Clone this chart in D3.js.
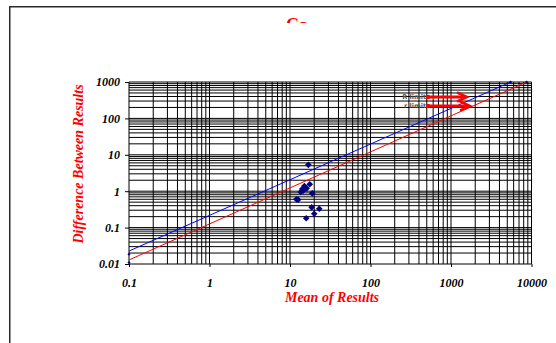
<!DOCTYPE html>
<html>
<head>
<meta charset="utf-8">
<script src="https://cdn.jsdelivr.net/npm/d3@7"></script>
<style>
  body { margin: 0; background: #fff; }
  svg { display: block; }
  .tick text { font-family: "Liberation Serif", "Times New Roman", serif; font-weight: bold; font-style: italic; font-size: 12px; fill: #000; }
</style>
</head>
<body>
<svg id="chart"></svg>
<script>
// data
const xTicks = [0.1, 1, 10, 100, 1000, 10000];
const xTickLabels = ['0.1', '1', '10', '100', '1000', '10000'];
const yTicks = [0.01, 0.1, 1, 10, 100, 1000];
const yTickLabels = ['0.01', '0.1', '1', '10', '100', '1000'];

// scatter: mean of results vs difference between results
const meanVals = [16.9, 17.6, 15.1, 16.1, 14.2, 13.6, 14.6, 18.9, 12.0, 12.6, 18.6, 23.1, 20.0, 15.9];
const diffVals = [5.3, 1.55, 1.39, 1.2, 1.15, 0.95, 1.03, 0.875, 0.6, 0.585, 0.36, 0.33, 0.24, 0.18];

// limit lines (start / end)
const blueLineX = [0.1, 5500];
const blueLineY = [0.0227, 1000];
const redLineX = [0.1, 8700];
const redLineY = [0.0129, 1000];

// small end markers
const endX = [0.1, 0.1, 5500, 8700];
const endY = [0.0185, 0.011, 1000, 1000];

const legendLabels = ['R limit', 'r limit'];

let margin = { top: 82, right: 24.5, bottom: 79, left: 129 },
  width = 556 - margin.left - margin.right,
  height = 343 - margin.top - margin.bottom;

let root = d3.select('#chart')
  .attr('width', 556)
  .attr('height', 343);

// outer frame (runs off the page to the right and bottom)
root.append('rect')
  .attr('x', 9.75).attr('y', 6.75)
  .attr('width', 600).attr('height', 400)
  .attr('fill', 'none')
  .attr('stroke', '#2a2a2a')
  .attr('stroke-width', 1.5);

// title, cut off by the plot frame
root.append('clipPath').attr('id', 'titleClip')
  .append('rect').attr('x', 0).attr('y', 0).attr('width', 556).attr('height', 23);
root.append('text')
  .attr('x', 297).attr('y', 31)
  .attr('text-anchor', 'middle')
  .attr('clip-path', 'url(#titleClip)')
  .style('font-family', '"Liberation Serif", "Times New Roman", serif')
  .style('font-weight', 'bold')
  .style('font-size', '18px')
  .attr('fill', '#ff0000')
  .text('Ca');

let svg = root.append('g')
  .attr('transform', 'translate(' + margin.left + ',' + margin.top + ')');

let x = d3.scaleLog().domain([0.1, 10000]).range([0, width]);
let y = d3.scaleLog().domain([0.01, 1000]).range([height, 0]);

// grid: every 1..9 of each decade
let gridX = [], gridY = [];
for (let e = -1; e < 4; e++) for (let m = 1; m < 10; m++) gridX.push(m * Math.pow(10, e));
gridX.push(10000);
for (let e = -2; e < 3; e++) for (let m = 1; m < 10; m++) gridY.push(m * Math.pow(10, e));
gridY.push(1000);

svg.append('g').selectAll('line').data(gridX).join('line')
  .attr('x1', d => x(d)).attr('x2', d => x(d))
  .attr('y1', 0).attr('y2', height)
  .attr('stroke', '#000').attr('stroke-width', 1);

svg.append('g').selectAll('line').data(gridY).join('line')
  .attr('x1', 0).attr('x2', width)
  .attr('y1', d => y(d)).attr('y2', d => y(d))
  .attr('stroke', '#000').attr('stroke-width', 1);

// axes
let xAxis = svg.append('g')
  .attr('transform', 'translate(0,' + height + ')')
  .call(d3.axisBottom(x).tickValues(xTicks).tickFormat((d, i) => xTickLabels[i]).tickSize(3).tickPadding(11));
xAxis.select('.domain').remove();

let yAxis = svg.append('g')
  .call(d3.axisLeft(y).tickValues(yTicks).tickFormat((d, i) => yTickLabels[i]).tickSize(4).tickPadding(5));
yAxis.select('.domain').remove();

// axis titles
svg.append('text')
  .attr('x', 203).attr('y', 220)
  .attr('text-anchor', 'middle')
  .style('font-family', '"Liberation Serif", "Times New Roman", serif')
  .style('font-weight', 'bold').style('font-style', 'italic').style('font-size', '14px')
  .attr('fill', '#ff0000')
  .text('Mean of Results');

svg.append('text')
  .attr('transform', 'translate(-46,' + (height / 2 - 9) + ') rotate(-90)')
  .attr('text-anchor', 'middle')
  .style('font-family', '"Liberation Serif", "Times New Roman", serif')
  .style('font-weight', 'bold').style('font-style', 'italic').style('font-size', '14px')
  .attr('fill', '#ff0000')
  .text('Difference Between Results');

// limit lines
let line = d3.line().x(d => x(d[0])).y(d => y(d[1]));
svg.append('path')
  .datum(blueLineX.map((v, i) => [v, blueLineY[i]]))
  .attr('fill', 'none').attr('stroke', '#0000ff').attr('stroke-width', 1)
  .attr('d', line);
svg.append('path')
  .datum(redLineX.map((v, i) => [v, redLineY[i]]))
  .attr('fill', 'none').attr('stroke', '#ff0000').attr('stroke-width', 1)
  .attr('d', line);

svg.append('g').selectAll('path').data(endX).join('path')
  .attr('transform', (d, i) => 'translate(' + x(d) + ',' + y(endY[i]) + ') rotate(45)')
  .attr('d', d3.symbol(d3.symbolSquare, 5))
  .attr('fill', '#000080');

// scatter points, Excel style square diamonds
svg.append('g').selectAll('path').data(meanVals).join('path')
  .attr('transform', (d, i) => 'translate(' + x(d) + ',' + y(diffVals[i]) + ') rotate(45)')
  .attr('d', d3.symbol(d3.symbolSquare, 22))
  .attr('fill', '#000080');

// legend with arrows
let leg = svg.append('g');
legendLabels.forEach((lab, i) => {
  let ly = 15 + i * 9;
  let g = leg.append('g').attr('transform', 'translate(0,' + ly + ')');
  g.append('text')
    .attr('x', 297).attr('y', 2.2)
    .attr('text-anchor', 'end')
    .style('font-family', '"DejaVu Sans", sans-serif').style('font-size', '6.5px')
    .style('font-weight', 'bold')
    .attr('fill', '#555')
    .text(lab);
  g.append('line')
    .attr('x1', 299).attr('x2', 337 + i * 3)
    .attr('y1', 0).attr('y2', 0)
    .attr('stroke', '#ff0000').attr('stroke-width', 3);
  g.append('circle').attr('cx', 299).attr('cy', 0).attr('r', 2.2).attr('fill', '#ff0000');
  g.append('polyline')
    .attr('points', [[328 + i * 3, -4.5], [338 + i * 3, 0], [328 + i * 3, 4.5]].map(p => p.join(',')).join(' '))
    .attr('fill', 'none').attr('stroke', '#ff0000').attr('stroke-width', 2.5);
});
</script>
</body>
</html>
